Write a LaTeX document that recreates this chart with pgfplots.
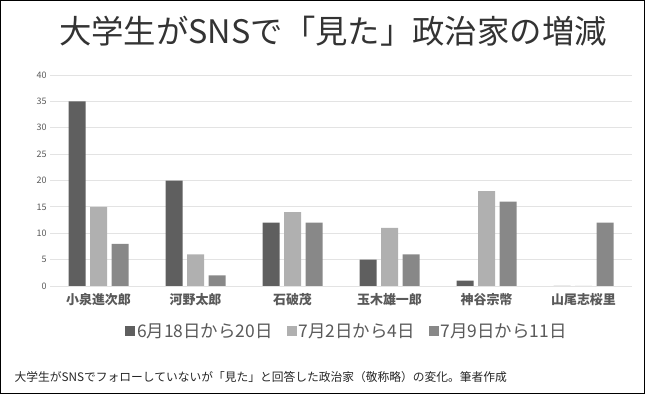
\documentclass[border=0pt]{standalone}
\usepackage{pgfplots}
\pgfplotsset{compat=1.18}
\usepackage{fontspec}
\setmainfont{Noto Sans CJK JP}
\definecolor{sA}{HTML}{5F5F5F}
\definecolor{sB}{HTML}{B0B0B0}
\definecolor{sC}{HTML}{888888}
\definecolor{txt}{HTML}{595959}
\definecolor{grd}{HTML}{E3E3E3}
\begin{document}
\begin{tikzpicture}
\useasboundingbox (0,0) rectangle (645bp,394bp);
\draw[line width=1.2bp, black] (0.6bp,0.6bp) rectangle (644.4bp,393.4bp);
\node[font=\fontsize{32.5}{33}\selectfont, text=black!80] at (333bp,363bp) {大学生がSNSで「見た」政治家の増減};
\node[anchor=west, font=\fontsize{11.8}{12}\selectfont, text=black!85] at (11bp,17bp) {大学生がSNSでフォローしていないが「見た」と回答した政治家（敬称略）の変化。筆者作成};
\begin{axis}[
  at={(50bp,108bp)}, anchor=south west,
  width=582bp, height=211bp, scale only axis,
  ymin=0, ymax=40, ytick={0,5,...,40},
  xmin=-0.5, xmax=5.5,
  xtick=data,
  xticklabels={小泉進次郎,河野太郎,石破茂,玉木雄一郎,神谷宗幣,山尾志桜里},
  x tick label style={font=\fontsize{13}{13}\selectfont\bfseries, text=txt, yshift=-4bp},
  y tick label style={font=\fontsize{9}{9}\selectfont, text=txt},
  /pgf/number format/assume math mode=true,
  major tick length=0pt,
  axis line style={draw=none},
  ymajorgrids, major grid style={draw=grd, line width=0.8bp},
  ybar=4.5bp, bar width=17bp,
  legend columns=3,
  legend style={at={(0.51,-0.215)}, anchor=center, draw=none, fill=none,
    font=\fontsize{17.5}{18}\selectfont, text=txt,
    /tikz/every even column/.append style={column sep=12bp}},
  legend image code/.code={\fill[#1] (0bp,-5bp) rectangle (10bp,5bp);},
]
\addplot[fill=sA, draw=none] coordinates {(0,35) (1,20) (2,12) (3,5) (4,1) (5,0)};
\addplot[fill=sB, draw=none] coordinates {(0,15) (1,6) (2,14) (3,11) (4,18) (5,0)};
\addplot[fill=sC, draw=none] coordinates {(0,8) (1,2) (2,12) (3,6) (4,16) (5,12)};
\legend{6月18日から20日,7月2日から4日,7月9日から11日}
\end{axis}
\end{tikzpicture}
\end{document}
